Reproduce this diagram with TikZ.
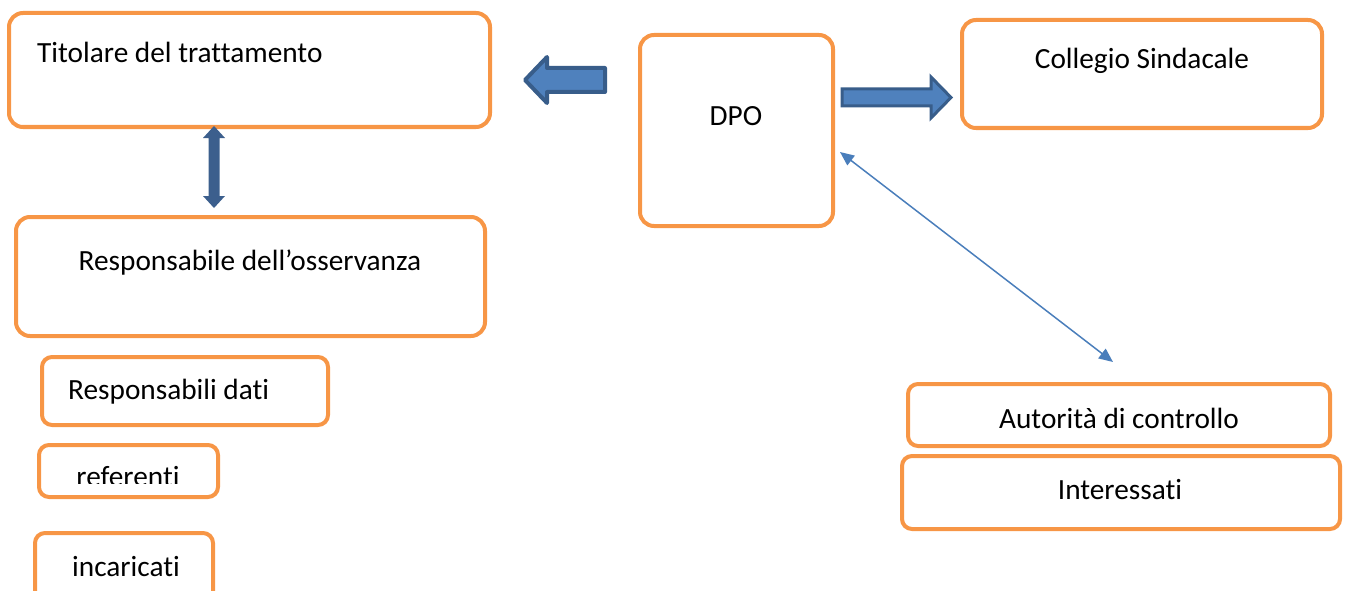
\documentclass[tikz,border=0pt]{standalone}
\usepackage{fontspec}
\setmainfont[Ligatures=CommonOff]{Carlito}
\usetikzlibrary{arrows.meta}
\definecolor{boxorange}{HTML}{F79646}
\definecolor{arrowfill}{HTML}{4F81BD}
\definecolor{arrowline}{HTML}{385D8A}
\definecolor{darkblue}{HTML}{3C5F8D}
\definecolor{thinblue}{HTML}{4A7EBB}
\begin{document}
\begin{tikzpicture}[x=1pt,y=-1pt,
  obox/.style={draw=boxorange, line width=4pt, rounded corners=14pt},
  sbox/.style={draw=boxorange, line width=4pt, rounded corners=10pt},
  lbl/.style={inner sep=0pt, font=\fontsize{29.3}{35}\selectfont, anchor=base},
  blockarrow/.style={fill=arrowfill, draw=arrowline, line join=round}]
\useasboundingbox (0,0) rectangle (1348,591);
% boxes
\draw[obox] (9,13) rectangle (490,127);
\coordinate (tit) at (214,127);
\draw[obox] (16,217) rectangle (485,336);
\coordinate (resp) at (214,217);
\draw[sbox] (42,357) rectangle (328,425);
\draw[sbox] (39,445) rectangle (218,497);
\draw[sbox] (35,533) rectangle (213,610);
\draw[obox] (640,35) rectangle (833,226);
\draw[obox] (962,20) rectangle (1322,128);
\draw[sbox] (908,384) rectangle (1330,446);
\draw[sbox] (902,456) rectangle (1340,529);
% texts
\node[lbl, anchor=base west] (ttit) at (37,63) {Titolare del trattamento};
\node[lbl] (tresp) at (250,270) {Responsabile dell’osservanza};
\node[lbl, anchor=base west] (tdati) at (68,399) {Responsabili dati};
\begin{scope}
\clip (39,445) rectangle (218,483);
\node[lbl] (tref) at (128,486) {referenti};
\end{scope}
\node[lbl] (tinc) at (126,576) {incaricati};
\node[lbl] (tdpo) at (736,125) {DPO};
\node[lbl] (tcol) at (1142,69) {Collegio Sindacale};
\node[lbl] (taut) at (1119,428) {Autorità di controllo};
\node[lbl] (tint) at (1120,499) {Interessati};
% block arrows
\draw[blockarrow, line width=4pt] (525,80) -- (547,57) -- (547,68) -- (605,68) -- (605,92) -- (547,92) -- (547,103) -- cycle;
\draw[blockarrow, line width=3pt, line join=miter] (842,89) -- (931,89) -- (931,77) -- (951,97.5) -- (931,118) -- (931,106) -- (842,106) -- cycle;
\fill[darkblue] (214,126) -- (225,138) -- (219.5,138) -- (219.5,196) -- (225,196) -- (214,208) -- (203,196) -- (208.5,196) -- (208.5,138) -- (203,138) -- cycle;
% thin double arrow
\coordinate (a1) at (840,152);
\coordinate (a2) at (1113,362);
\draw[thinblue, line width=1.5pt, {Triangle[length=14pt,width=12pt]}-{Triangle[length=14pt,width=12pt]}] (a1) -- (a2);
\end{tikzpicture}
\end{document}
